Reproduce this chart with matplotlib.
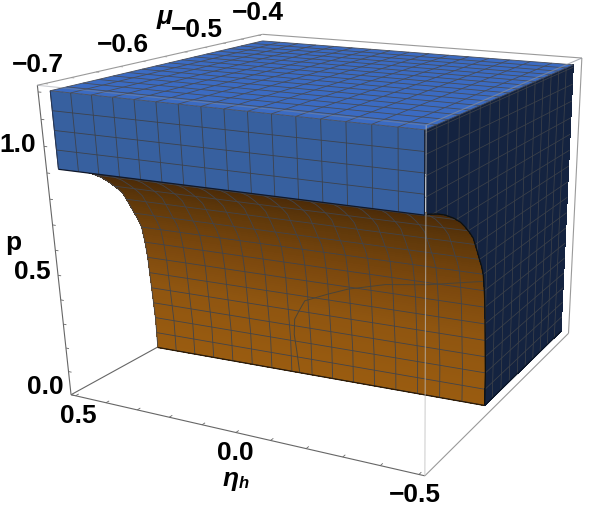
import numpy as np
import matplotlib
matplotlib.use("Agg")
import matplotlib.pyplot as plt

W, H = 590, 509

# Axis ranges of the bounding box and of the plotted solid
ETA_BOX = [-0.515, 0.515]
MU_BOX = [-0.708, -0.392]
P_BOX = [0.0, 1.224]
ETA_SOLID = [-0.5, 0.5]
MU_SOLID = [-0.70, -0.40]
P_TOP = 1.20
P_SLAB_LOW = [0.922, 0.908]  # at eta = -0.5 and eta = 0.5

# Where the box corners appear on the picture (camera calibration: eta, mu, p -> px)
CAM_WORLD = [(1, 0, 0), (1, 0, 1), (1, 1, 0), (1, 1, 1),
             (0, 0, 0), (0, 0, 1), (0, 1, 0), (0, 1, 1)]
CAM_PIX = [(70, 394), (37, 87), (275, 283), (262, 34),
           (423, 475), (430, 125), (569, 335), (580, 57)]

# Boundary of the region: mu as a function of p
PROFILE_P = [0, .07, .14, .21, .28, .35, .42, .49, .56, .60, .63, .67, .70, .73,
             .76, .79, .82, .85, .88, .90, .92]
PROFILE_MU = [-.589, -.589, -.589, -.590, -.591, -.592, -.593, -.595, -.598, -.602, -.606,
              -.611, -.615, -.619, -.626, -.634, -.643, -.655, -.670, -.683, -.700]
# The boundary differs slightly between the two ends of eta (eta = 0.5, eta = -0.5)
END_ETA = [0.5, -0.5]
END_MU_SHIFT = [-.007, .004]
END_FLOOR = [.012, .020]

# Thin curve on the orange sheet
CURVE_ETA = [.038, .045, .05, .045, .03, .01, -.06, -.12, -.23, -.345, -.5]
CURVE_P = [0, .10, .17, .24, .28, .33, .375, .41, .455, .48, .53]

# Shading of the orange sheet against p
SHADE_P = [0, .30, .50, .70, .85, .92]
SHADE_RGB = [(0x9a, 0x5c, 0x10), (0x8f, 0x55, 0x10), (0x7a, 0x47, 0x0d),
             (0x5f, 0x38, 0x0a), (0x4a, 0x2a, 0x08), (0x45, 0x27, 0x07)]

ETA_TICKS = [.5, .4, .3, .2, .1, 0, -.1, -.2, -.3, -.4, -.5]
MU_TICKS = [-.70, -.67, -.64, -.61, -.58, -.55, -.52, -.49, -.46, -.43, -.40]
P_TICKS = [0, .1, .2, .3, .4, .5, .6, .7, .8, .9, 1.0, 1.1, 1.2]

ETA_CELLS, MU_CELLS, P_STEP = 16, 16, 0.07

BLUE_TOP, BLUE_FRONT, BLUE_SIDE = "#3b6bc2", "#37609f", "#142340"
MESH = "#42444a"

# text: label, px x, px y
ETA_LABELS = [("0.5", 78, 416), ("0.0", 235, 453), ("\u22120.5", 415, 495)]
MU_LABELS = [("\u22120.7", 38, 65), ("\u22120.6", 123, 45), ("\u22120.5", 197, 30), ("\u22120.4", 258, 13)]
P_LABELS = [("1.0", 18, 145), ("0.5", 32, 272), ("0.0", 45, 387)]

plt.rcParams["font.family"] = ["Liberation Sans", "DejaVu Sans"]
fig = plt.figure(figsize=(W / 100, H / 100), dpi=100)
ax = fig.add_axes([0, 0, 1, 1], projection="3d", computed_zorder=False)
ax.set_axis_off()
ax.set_proj_type("ortho")


def camera():
    lo = np.array([ETA_BOX[0], MU_BOX[0], P_BOX[0]])
    hi = np.array([ETA_BOX[1], MU_BOX[1], P_BOX[1]])
    rows = []
    for (a, b, c), (u, v) in zip(CAM_WORLD, CAM_PIX):
        u, v = u / 500, (H - v) / 500
        rows.append([a, b, c, 1, 0, 0, 0, 0, -u * a, -u * b, -u * c, -u])
        rows.append([0, 0, 0, 0, a, b, c, 1, -v * a, -v * b, -v * c, -v])
    P = np.linalg.svd(np.array(rows, float))[2][-1].reshape(3, 4)
    P[:2] *= 500
    if (P[2] @ np.array([0, 0, 0, 1])) < 0:
        P = -P
    P = P / P[2, 3]
    T = np.eye(4)
    for i in range(3):
        T[i, i] = 1 / (hi[i] - lo[i])
        T[i, 3] = -lo[i] / (hi[i] - lo[i])
    M = np.vstack([P[0], P[1], [0, 0, 0, -1], P[2]])
    return M @ T


CAM = camera()
ax.get_proj = lambda: CAM
ax.apply_aspect = lambda position=None: None
ax._viewLim.intervalx = (0, W)
ax._viewLim.intervaly = (0, H)


def seg(x, y, z, color=MESH, lw=0.6, zo=3, alpha=None):
    ax.plot(x, y, z, color=color, lw=lw, zorder=zo, alpha=alpha, solid_capstyle="butt")


def sheet(eta, p):
    """mu and lifted p of the boundary sheet at (eta, p)."""
    eta = np.asarray(eta, float)
    p = np.asarray(p, float)
    shift = np.interp(eta, END_ETA[::-1], END_MU_SHIFT[::-1])
    floor = np.interp(eta, END_ETA[::-1], END_FLOOR[::-1])
    mu = np.maximum(np.interp(p, PROFILE_P, PROFILE_MU) + shift, MU_SOLID[0])
    return mu, p + floor * (1 - p / PROFILE_P[-1])


def slab_low(eta):
    return np.interp(eta, ETA_SOLID, P_SLAB_LOW)


# ---- back of bounding box
e0, e1 = ETA_BOX
m0, m1 = MU_BOX
p0, p1 = P_BOX
DARK, MID = "#666666", "#9a9a9a"
seg([e1, e1], [m0, m1], [p0, p0], DARK, 0.8, 1)
seg([e1, e0], [m0, m0], [p0, p0], DARK, 0.8, 1)
seg([e1, e1], [m0, m0], [p0, p1], DARK, 0.8, 1)
seg([e1, e1], [m0, m1], [p1, p1], MID, 0.8, 1)
seg([e1, e0], [m1, m1], [p1, p1], MID, 0.8, 1)
seg([e0, e0], [m0, m1], [p0, p0], MID, 0.8, 1)
seg([e0, e0], [m1, m1], [p0, p1], MID, 0.8, 1)
for t in ETA_TICKS:
    seg([t, t], [m0, m0 + .004], [p0, p0], DARK, 0.6, 1)
for t in P_TICKS:
    seg([e1, e1 - .01], [m0, m0], [t, t], DARK, 0.6, 1)
for t in MU_TICKS:
    seg([e1, e1 - .01], [t, t], [p1, p1], MID, 0.6, 1)

# ---- orange sheet
eA, eB = ETA_SOLID
mA, mB = MU_SOLID
pf = np.linspace(0, PROFILE_P[-1], 93)
ef = np.linspace(eA, eB, ETA_CELLS + 1)
EE, PP = np.meshgrid(ef, pf)
MM, PL = sheet(EE, PP)
pc = 0.5 * (pf[:-1] + pf[1:])
rgb = np.array([np.interp(pc, SHADE_P, [c[i] / 255 for c in SHADE_RGB]) for i in range(3)]).T
fc = np.ones(EE.shape + (4,))
fc[:-1, :, :3] = rgb[:, None, :]
fc[-1, :, :3] = rgb[-1]
ax.plot_surface(EE, MM, PL, facecolors=fc, rstride=1, cstride=1, shade=False,
                linewidth=0, antialiased=False, zorder=2)
for p in np.arange(0, 0.921, P_STEP):
    ml, pl = sheet(ef, np.full_like(ef, p))
    seg(ef, ml, pl, MESH, 0.6, 3)
for e in ef:
    ml, pl = sheet(np.full_like(pf, e), pf)
    seg(np.full_like(pf, e), ml, pl, MESH, 0.6, 3)
ml, pl = sheet(CURVE_ETA, CURVE_P)
seg(CURVE_ETA, ml, pl, "#4a4438", 0.7, 3)
ml, pl = sheet(ef, np.zeros_like(ef))
seg(ef, ml, pl, "#2a1a08", 0.9, 3)

# ---- dark side at eta = eA
nm = 20
side_p = np.concatenate([pf, [P_TOP]])
u = np.linspace(0, 1, nm)
PS, US = np.meshgrid(side_p, u)
mSide, pSide = sheet(np.full_like(PS, eA), np.minimum(PS, PROFILE_P[-1]))
pSide = np.where(PS <= PROFILE_P[-1], pSide, PS)
start = np.where(PS <= PROFILE_P[-1], mSide, mA)
MS = start + (mB - start) * US
ax.plot_surface(np.full_like(PS, eA), MS, pSide, color=BLUE_SIDE, rstride=1, cstride=1,
                shade=False, linewidth=0, antialiased=False, zorder=4)
SIDE_MESH = "#3c4149"
mu_lines = np.linspace(mA, mB, MU_CELLS + 1)
shift_side = END_MU_SHIFT[1]
floor_side = END_FLOOR[1]
for m in mu_lines[1:-1]:
    if m - shift_side >= PROFILE_MU[0]:
        low = 0.0
    else:
        low = float(np.interp(m - shift_side, PROFILE_MU[::-1], PROFILE_P[::-1]))
    low = low + floor_side * (1 - low / PROFILE_P[-1])
    seg([eA, eA], [m, m], [low, P_TOP], SIDE_MESH, 0.55, 5)
for p in np.arange(P_STEP, P_TOP, P_STEP):
    if p <= PROFILE_P[-1]:
        ml, pl = sheet(eA, p)
    else:
        ml, pl = mA, p
    seg([eA, eA], [ml, mB], [pl, pl], SIDE_MESH, 0.55, 5)
ml, pl = sheet(np.full_like(pf, eA), pf)
seg(np.full_like(pf, eA), ml, pl, "#10100c", 0.9, 5)
seg([eA, eA], [ml[0], mB], [pl[0], pl[0]], "#0c1626", 0.9, 5)

# ---- blue slab: front
E2, V2 = np.meshgrid([eA, eB], [0.0, 1.0])
P2 = slab_low(E2) + (P_TOP - slab_low(E2)) * V2
ax.plot_surface(E2, np.full_like(E2, mA), P2, color=BLUE_FRONT, shade=False,
                linewidth=0, zorder=6)
for e in ef:
    seg([e, e], [mA, mA], [slab_low(e), P_TOP], "#3d424c", 0.6, 7)
for v in [.25, .5, .75]:
    seg([eA, eB], [mA, mA], [slab_low(eA) + (P_TOP - slab_low(eA)) * v,
                              slab_low(eB) + (P_TOP - slab_low(eB)) * v], "#3d424c", 0.6, 7)
seg([eA, eB], [mA, mA], [slab_low(eA), slab_low(eB)], "#10182a", 0.9, 7)
seg([eB, eB], [mA, mA], [slab_low(eB), P_TOP], "#22355a", 0.7, 7)
seg([eA, eA], [mA, mA], [slab_low(eA), P_TOP], "#0f1b33", 0.9, 7)

# ---- blue slab: top
E3, M3 = np.meshgrid([eA, eB], [mA, mB])
ax.plot_surface(E3, M3, np.full_like(E3, P_TOP), color=BLUE_TOP, shade=False,
                linewidth=0, zorder=8)
for e in ef:
    seg([e, e], [mA, mB], [P_TOP, P_TOP], "#474c58", 0.6, 9)
for m in mu_lines:
    seg([eA, eB], [m, m], [P_TOP, P_TOP], "#474c58", 0.6, 9)

# ---- front of bounding box, drawn over the solid
seg([e0, e0], [m0, m0], [p0, p1], "#bdbdbd", 0.8, 10, 0.7)
seg([e1, e0], [m0, m0], [p1, p1], "#8a8f99", 0.8, 10, 0.45)
seg([e0, e0], [m0, m1], [p1, p1], "#8a8f99", 0.8, 10, 0.7)


def label(s, x, y, **kw):
    fig.text(x / W, 1 - y / H, s, ha="center", va="center", fontweight="bold",
             fontsize=kw.pop("size", 19), color="black", **kw)


for s, x, y in ETA_LABELS + MU_LABELS + P_LABELS:
    label(s, x, y)
label("p", 13, 243)
label("\u03bc", 165, 17, style="italic")
label("\u03b7", 231, 479, style="italic")
label("h", 244, 484, style="italic", size=12)

fig.savefig("out.png", dpi=100)
